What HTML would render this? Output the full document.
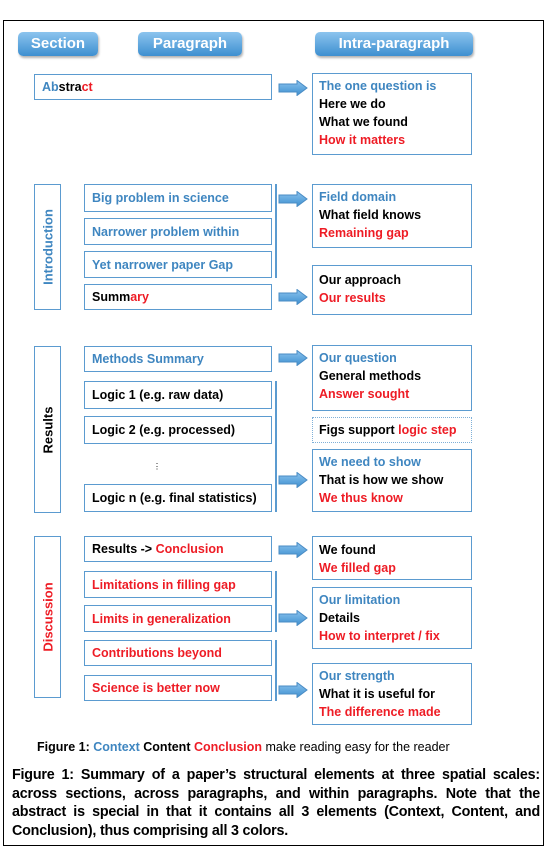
<!DOCTYPE html>
<html><head><meta charset="utf-8"><style>
body{margin:0;width:555px;height:862px;background:#fff;position:relative;overflow:hidden;font-family:"Liberation Sans",sans-serif;}
.frame{position:absolute;left:3px;top:20px;width:541px;height:826px;border:1.5px solid #000;box-sizing:border-box;}
.btn{position:absolute;height:24px;border-radius:5px;background:linear-gradient(#8cc4ee,#3d8fd0);color:#fff;font-weight:bold;font-size:15px;text-align:center;line-height:24px;box-shadow:1px 2px 2px rgba(0,0,0,.3);}
.b{position:absolute;border:1.3px solid #5b9bd0;box-sizing:border-box;font-weight:bold;font-size:12.5px;}
.p{left:84px;width:188px;padding-left:7px;display:flex;align-items:center;}
.r{left:312px;width:160px;padding:3px 0 0 6px;line-height:18px;}
.sec{left:34px;width:27px;}
.vt{position:absolute;left:50%;top:50%;transform:translate(-50%,-50%) rotate(-90deg);white-space:nowrap;font-size:13px;font-weight:bold;}
.bl{color:#3f86c0}.rd{color:#ee1c25}.bk{color:#000}
.bar{position:absolute;left:275px;width:2px;background:#5b9bd0;}
.ar{position:absolute;left:278px;width:30px;height:16px;}
</style></head><body>
<div class="frame"></div>
<div class="btn" style="left:18px;top:32px;width:80px">Section</div>
<div class="btn" style="left:138px;top:32px;width:104px">Paragraph</div>
<div class="btn" style="left:315px;top:32px;width:158px">Intra-paragraph</div>

<svg width="0" height="0" style="position:absolute"><defs><linearGradient id="g" x1="0" y1="0" x2="0" y2="1"><stop offset="0" stop-color="#8cc4ee"/><stop offset="1" stop-color="#3d8fd0"/></linearGradient></defs></svg>

<div class="b p" style="left:34px;width:238px;top:74px;height:26px"><span class="bl">Ab</span><span class="bk">stra</span><span class="rd">ct</span></div>
<div class="b r" style="top:73px;height:82px"><div class="bl">The one question is</div><div>Here we do</div><div>What we found</div><div class="rd">How it matters</div></div>

<div class="b sec" style="top:184px;height:126px"><div class="vt bl">Introduction</div></div>
<div class="b p bl" style="top:184px;height:28px">Big problem in science</div>
<div class="b p bl" style="top:218px;height:27px">Narrower problem within</div>
<div class="b p bl" style="top:251px;height:27px">Yet narrower paper Gap</div>
<div class="b p" style="top:284px;height:26px">Summ<span class="rd">ary</span></div>
<div class="bar" style="top:184px;height:94px"></div>
<div class="b r" style="top:184px;height:64px"><div class="bl">Field domain</div><div>What field knows</div><div class="rd">Remaining gap</div></div>
<div class="b r" style="top:265px;height:50px;padding-top:5px"><div>Our approach</div><div class="rd">Our results</div></div>

<div class="b sec" style="top:346px;height:167px"><div class="vt bk">Results</div></div>
<div class="b p bl" style="top:346px;height:26px">Methods Summary</div>
<div class="b p" style="top:381px;height:28px">Logic 1 (e.g. raw data)</div>
<div class="b p" style="top:416px;height:28px">Logic 2 (e.g. processed)</div>
<div style="position:absolute;left:153px;top:462px;font-size:8px">⋮</div>
<div class="b p" style="top:484px;height:28px">Logic n (e.g. final statistics)</div>
<div class="bar" style="top:381px;height:131px"></div>
<div class="b r" style="top:345px;height:66px"><div class="bl">Our question</div><div>General methods</div><div class="rd">Answer sought</div></div>
<div class="b r" style="top:417px;height:26px;border:1.3px dotted #7fb0d8;padding-top:3px">Figs support <span class="rd">logic step</span></div>
<div class="b r" style="top:449px;height:63px"><div class="bl">We need to show</div><div>That is how we show</div><div class="rd">We thus know</div></div>

<div class="b sec" style="top:536px;height:162px"><div class="vt rd">Discussion</div></div>
<div class="b p" style="top:536px;height:26px">Results -&gt;&nbsp;<span class="rd">Conclusion</span></div>
<div class="b p rd" style="top:571px;height:27px">Limitations in filling gap</div>
<div class="b p rd" style="top:605px;height:27px">Limits in generalization</div>
<div class="b p rd" style="top:640px;height:26px">Contributions beyond</div>
<div class="b p rd" style="top:675px;height:26px">Science is better now</div>
<div class="bar" style="top:571px;height:61px"></div>
<div class="bar" style="top:640px;height:61px"></div>
<div class="b r" style="top:536px;height:44px;padding-top:4px"><div>We found</div><div class="rd">We filled gap</div></div>
<div class="b r" style="top:587px;height:62px"><div class="bl">Our limitation</div><div>Details</div><div class="rd">How to interpret / fix</div></div>
<div class="b r" style="top:663px;height:62px"><div class="bl">Our strength</div><div>What it is useful for</div><div class="rd">The difference made</div></div>

<svg class="ar" style="top:80px" viewBox="0 0 30 16"><path d="M1 4H19V0.5L29 8L19 15.5V12H1Z" fill="url(#g)" stroke="#4a8cc4"/></svg>
<svg class="ar" style="top:191px" viewBox="0 0 30 16"><path d="M1 4H19V0.5L29 8L19 15.5V12H1Z" fill="url(#g)" stroke="#4a8cc4"/></svg>
<svg class="ar" style="top:289px" viewBox="0 0 30 16"><path d="M1 4H19V0.5L29 8L19 15.5V12H1Z" fill="url(#g)" stroke="#4a8cc4"/></svg>
<svg class="ar" style="top:350px" viewBox="0 0 30 16"><path d="M1 4H19V0.5L29 8L19 15.5V12H1Z" fill="url(#g)" stroke="#4a8cc4"/></svg>
<svg class="ar" style="top:472px" viewBox="0 0 30 16"><path d="M1 4H19V0.5L29 8L19 15.5V12H1Z" fill="url(#g)" stroke="#4a8cc4"/></svg>
<svg class="ar" style="top:542px" viewBox="0 0 30 16"><path d="M1 4H19V0.5L29 8L19 15.5V12H1Z" fill="url(#g)" stroke="#4a8cc4"/></svg>
<svg class="ar" style="top:610px" viewBox="0 0 30 16"><path d="M1 4H19V0.5L29 8L19 15.5V12H1Z" fill="url(#g)" stroke="#4a8cc4"/></svg>
<svg class="ar" style="top:682px" viewBox="0 0 30 16"><path d="M1 4H19V0.5L29 8L19 15.5V12H1Z" fill="url(#g)" stroke="#4a8cc4"/></svg>

<div style="position:absolute;left:37px;top:740px;font-size:12.5px;white-space:nowrap"><b>Figure 1: <span class="bl">Context</span> Content <span class="rd">Conclusion</span></b> make reading easy for the reader</div>
<div style="position:absolute;left:12px;top:766px;width:528px;font-family:'Liberation Sans',sans-serif;font-weight:bold;font-size:14.3px;line-height:18.5px;text-align:justify;letter-spacing:-0.2px">Figure 1: Summary of a paper’s structural elements at three spatial scales: across sections, across paragraphs, and within paragraphs. Note that the abstract is special in that it contains all 3 elements (Context, Content, and Conclusion), thus comprising all 3 colors.</div>
</body></html>
